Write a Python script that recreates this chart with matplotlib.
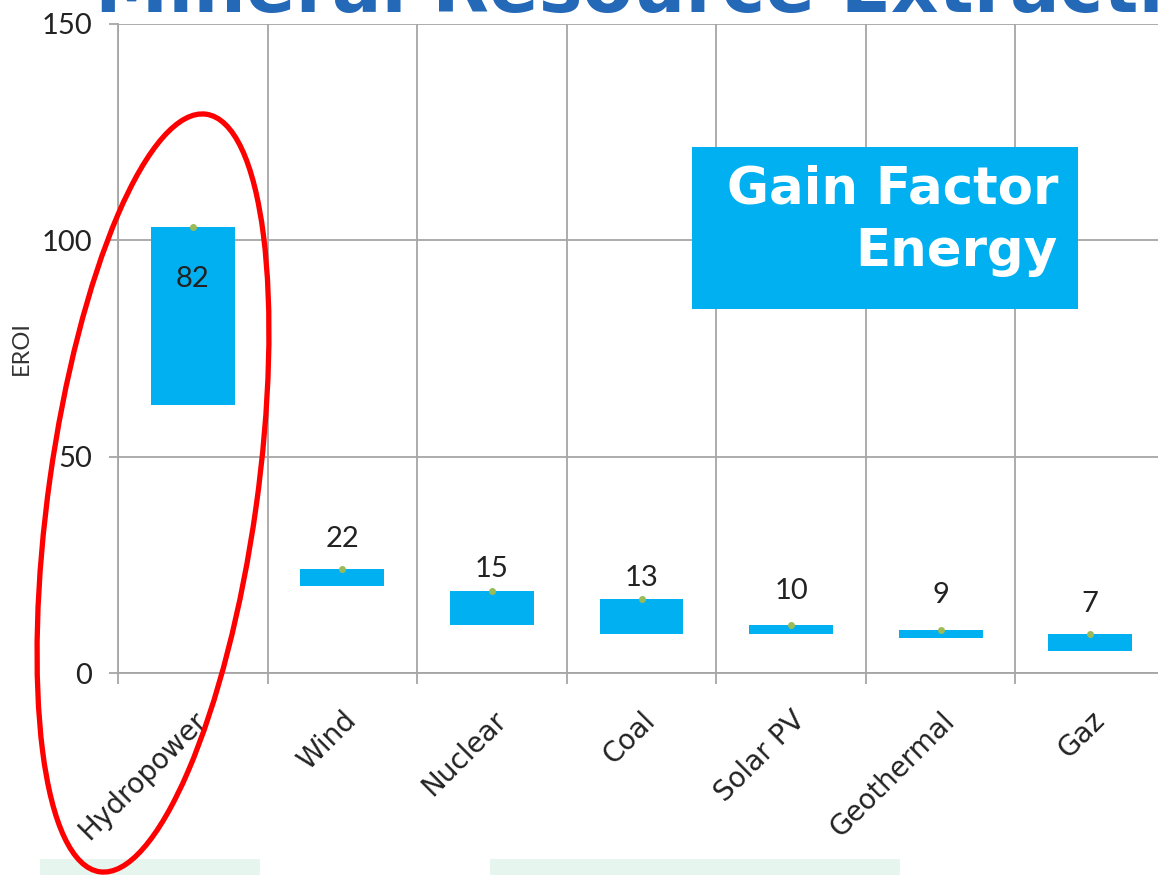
import matplotlib.pyplot as plt
from matplotlib.patches import Ellipse, Rectangle
import numpy as np

# Data
categories = ['Hydropower', 'Wind', 'Nuclear', 'Coal', 'Solar PV', 'Geothermal', 'Gaz']
eroi_low = [62, 20, 11, 9, 9, 8, 5]
eroi_high = [103, 24, 19, 17, 11, 10, 9]
eroi_value = [82, 22, 15, 13, 10, 9, 7]
y_ticks = [0, 50, 100, 150]

BLUE = '#00B0F0'
GRID = '#A6A6A6'
FONT = ['Lato', 'DejaVu Sans']

fig = plt.figure(figsize=(11.58, 8.75), dpi=100)
fig.patch.set_facecolor('white')

# axes run past the right edge, like the cropped screenshot
ax = fig.add_axes([118 / 1158, 202 / 875, 1047 / 1158, 649 / 875])
x = np.arange(len(categories))

heights = [h - l for h, l in zip(eroi_high, eroi_low)]
ax.bar(x, heights, bottom=eroi_low, width=0.56, color=BLUE, zorder=3)
ax.plot(x, eroi_high, 'o', color='#9BBB59', ms=4, zorder=4)

for xi, v in zip(x, eroi_value):
    ax.annotate(str(v), (xi, v), xytext=(0, 28), textcoords='offset points',
                ha='center', va='center', fontsize=21, family=FONT,
                color='#222222', zorder=5)

ax.set_xlim(-0.5, len(categories) - 0.5)
ax.set_ylim(0, 150)
ax.set_yticks(y_ticks)
ax.set_yticklabels([str(t) for t in y_ticks], fontsize=21, family=FONT, color='#222222')

ax.set_xticks(x)
ax.set_xticklabels(categories, rotation=45, ha='right', va='top',
                   rotation_mode='anchor', fontsize=20, family='DejaVu Sans',
                   color='#222222')
ax.set_xticks(np.arange(len(categories) + 1) - 0.5, minor=True)
ax.tick_params(axis='x', which='major', length=0, pad=24)
ax.tick_params(axis='x', which='minor', length=8, width=1.3, color=GRID, direction='out')
ax.tick_params(axis='y', length=6.5, width=1.3, color=GRID, pad=12)

ax.grid(axis='y', which='major', color=GRID, lw=1.3, zorder=0)
ax.grid(axis='x', which='minor', color=GRID, lw=1.3, zorder=0)
for side in ['top', 'right']:
    ax.spines[side].set_visible(False)
for side in ['left', 'bottom']:
    ax.spines[side].set_color(GRID)
    ax.spines[side].set_linewidth(1.3)

fig.text(21 / 1158, 1 - 348 / 875, 'EROI', rotation=90, ha='center', va='center',
         fontsize=17, family=FONT, color='#333333')

# slide title, cut off at the top as in the screenshot
fig.text(95 / 1158, 1 - 12 / 875, 'Mineral Resource Extraction', ha='left',
         va='baseline', fontsize=53, fontweight='bold', color='#2468B8')

# "Gain Factor Energy" box
fig.patches.append(Rectangle((692, 875 - 309), 386, 162, transform=None,
                             facecolor=BLUE, edgecolor='none', zorder=5))
fig.text(1058 / 1158, 1 - 190 / 875, 'Gain Factor', ha='right', va='center',
         fontsize=37, fontweight='bold', color='white', zorder=6)
fig.text(1058 / 1158, 1 - 252 / 875, 'Energy', ha='right', va='center',
         fontsize=37, fontweight='bold', color='white', zorder=6)

# faint green shapes at the bottom of the slide
fig.patches.append(Rectangle((40, 0), 220, 16, transform=None,
                             facecolor='#E6F5EE', edgecolor='none', zorder=1))
fig.patches.append(Rectangle((490, 0), 410, 16, transform=None,
                             facecolor='#E6F5EE', edgecolor='none', zorder=1))

# red highlight ellipse around Hydropower
fig.patches.append(Ellipse((153, 875 - 493), 208, 765, angle=-8, transform=None,
                           facecolor='none', edgecolor='red', lw=3.8, zorder=7))

fig.savefig('out.png', dpi=100)
